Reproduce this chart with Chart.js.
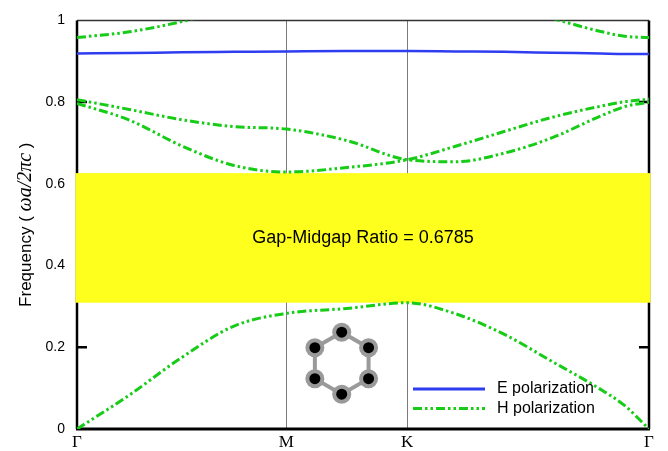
<!DOCTYPE html>
<html>
<head>
<meta charset="utf-8">
<script src="https://cdn.jsdelivr.net/npm/chart.js@4"></script>
<style>
  html, body { margin: 0; padding: 0; background: #fff; }
  canvas { display: block; }
</style>
</head>
<body>
<canvas id="bands" width="668" height="451"></canvas>
<script>
// Brillouin zone path for the triangular lattice (units of 2*pi/a)
const kTicks = [0, 0.5774, 0.9107, 1.5774];
const kLabels = ['Γ', 'M', 'K', 'Γ'];
const kPath = [0, 0.1443, 0.2887, 0.4330, 0.5774, 0.7440, 0.9107,
               1.0440, 1.1774, 1.3107, 1.4440, 1.5107, 1.5774];

// E polarization (TM) band
const eBand = [0.919, 0.920, 0.922, 0.923, 0.924, 0.925, 0.925,
               0.924, 0.923, 0.921, 0.919, 0.918, 0.918];

// H polarization (TE) bands
const hBand1 = [0, 0.083, 0.175, 0.252, 0.283, 0.295, 0.309,
                0.282, 0.232, 0.165, 0.097, 0.057, 0];
const hBand2 = [0.797, 0.756, 0.693, 0.645, 0.629, 0.640, 0.659,
                0.692, 0.728, 0.763, 0.790, 0.801, 0.807];
const hBand3 = [0.806, 0.782, 0.757, 0.740, 0.734, 0.706, 0.659,
                0.654, 0.675, 0.713, 0.766, 0.789, 0.800];
const hBand4 = [0.958, 0.972, 0.997, 1.03, 1.06, 1.08, 1.08,
                1.07, 1.04, 1.005, 0.973, 0.961, 0.958];

// photonic band gap edges
const gapBottom = 0.309;
const gapTop = 0.6263;
const gapText = 'Gap-Midgap Ratio = 0.6785';

const blue = '#2f3df0';
const green = '#16cc16';
const hDash = [9, 3, 2.5, 3, 2.5, 3];

const toPoints = (vals) => vals.map((v, i) => ({ x: kPath[i], y: v }));

const hBands = [hBand1, hBand2, hBand3, hBand4];
const datasets = [{
  label: 'E polarization',
  data: toPoints(eBand),
  borderColor: blue,
  borderWidth: 2.5,
}].concat(hBands.map((b, i) => ({
  label: i === 0 ? 'H polarization' : '',
  data: toPoints(b),
  borderColor: green,
  borderWidth: 3,
  borderDash: hDash,
})));

// frame, inward ticks and the gap band
const framePlugin = {
  id: 'frame',
  beforeDatasetsDraw(chart) {
    const { ctx, chartArea: a, scales: { y } } = chart;
    ctx.save();
    ctx.lineWidth = 1.5;
    ctx.strokeStyle = '#333';
    ctx.beginPath();
    ctx.moveTo(a.left, a.top);
    ctx.lineTo(a.right, a.top);
    ctx.stroke();
    ctx.strokeStyle = '#000';
    ctx.lineWidth = 2.5;
    ctx.beginPath();
    ctx.moveTo(a.left, a.top);
    ctx.lineTo(a.left, a.bottom);
    ctx.moveTo(a.right, a.top);
    ctx.lineTo(a.right, a.bottom);
    ctx.stroke();
    ctx.lineWidth = 3;
    ctx.beginPath();
    ctx.moveTo(a.left - 1, a.bottom);
    ctx.lineTo(a.right + 1, a.bottom);
    ctx.stroke();
    ctx.lineWidth = 2.5;
    [0.2, 0.4, 0.6, 0.8].forEach(v => {
      const py = y.getPixelForValue(v);
      ctx.beginPath();
      ctx.moveTo(a.left, py);
      ctx.lineTo(a.left + 10, py);
      ctx.moveTo(a.right, py);
      ctx.lineTo(a.right - 10, py);
      ctx.stroke();
    });

    const yTop = y.getPixelForValue(gapTop);
    const yBot = y.getPixelForValue(gapBottom);
    ctx.fillStyle = '#ffff1e';
    ctx.fillRect(a.left - 1.5, yTop, a.right - a.left + 3, yBot - yTop);
    ctx.restore();
  },
  afterDatasetsDraw(chart) {
    const { ctx, chartArea: a, scales: { x, y } } = chart;
    ctx.save();

    // gap annotation
    ctx.fillStyle = '#000';
    ctx.font = '18px "Liberation Sans", Arial, sans-serif';
    ctx.textAlign = 'center';
    ctx.textBaseline = 'middle';
    ctx.fillText(gapText, (a.left + a.right) / 2, y.getPixelForValue((gapTop + gapBottom) / 2));

    // unit cell sketch: six rods on a ring
    const cx = x.getPixelForValue(0.730);
    const cy = y.getPixelForValue(0.161);
    const r = 31;
    const nodes = [90, 30, -30, -90, -150, 150].map(d => {
      const t = d * Math.PI / 180;
      return [cx + r * Math.cos(t), cy - r * Math.sin(t)];
    });
    ctx.strokeStyle = '#9a9a9a';
    ctx.lineWidth = 4;
    ctx.beginPath();
    nodes.forEach((p, i) => (i ? ctx.lineTo(p[0], p[1]) : ctx.moveTo(p[0], p[1])));
    ctx.closePath();
    ctx.stroke();
    nodes.forEach(p => {
      ctx.fillStyle = '#9a9a9a';
      ctx.beginPath();
      ctx.arc(p[0], p[1], 9.5, 0, Math.PI * 2);
      ctx.fill();
      ctx.fillStyle = '#000';
      ctx.beginPath();
      ctx.arc(p[0], p[1], 5.5, 0, Math.PI * 2);
      ctx.fill();
    });

    // legend
    const lx = a.right - 236;
    const rows = [
      { y: a.bottom - 40, ds: chart.data.datasets[0] },
      { y: a.bottom - 20.5, ds: chart.data.datasets[1] },
    ];
    ctx.font = '16px "Liberation Sans", Arial, sans-serif';
    ctx.textAlign = 'left';
    rows.forEach(row => {
      ctx.strokeStyle = row.ds.borderColor;
      ctx.lineWidth = 3;
      ctx.setLineDash(row.ds.borderDash || []);
      ctx.beginPath();
      ctx.moveTo(lx, row.y);
      ctx.lineTo(lx + 72, row.y);
      ctx.stroke();
      ctx.setLineDash([]);
      ctx.fillStyle = '#000';
      ctx.fillText(row.ds.label, lx + 84, row.y);
    });
    ctx.restore();
  },
  afterDraw(chart) {
    const { ctx, chartArea: a } = chart;
    // axis title with italic math part
    const parts = [
      { t: 'Frequency ( ', f: '17px "Liberation Sans", Arial, sans-serif' },
      { t: 'ωa/2πc', f: 'italic 20px "Liberation Serif", "Times New Roman", serif' },
      { t: ' )', f: '17px "Liberation Sans", Arial, sans-serif' },
    ];
    ctx.save();
    let total = 0;
    parts.forEach(p => { ctx.font = p.f; p.w = ctx.measureText(p.t).width; total += p.w; });
    ctx.translate(31, (a.top + a.bottom) / 2);
    ctx.rotate(-Math.PI / 2);
    ctx.fillStyle = '#000';
    ctx.textBaseline = 'alphabetic';
    let px = -total / 2;
    parts.forEach(p => { ctx.font = p.f; ctx.fillText(p.t, px, 0); px += p.w; });
    ctx.restore();
  }
};

new Chart(document.getElementById('bands'), {
  type: 'line',
  data: { datasets },
  options: {
    responsive: false,
    animation: false,
    devicePixelRatio: 1,
    layout: { padding: { top: 16, right: 19, left: 0, bottom: 0 } },
    elements: {
      point: { radius: 0 },
      line: { cubicInterpolationMode: 'monotone', fill: false },
    },
    plugins: {
      legend: { display: false },
      tooltip: { enabled: false },
    },
    scales: {
      x: {
        type: 'linear',
        min: 0,
        max: kTicks[kTicks.length - 1],
        afterBuildTicks: (s) => { s.ticks = kTicks.map(v => ({ value: v })); },
        afterFit: (s) => { s.height = 22; },
        border: { display: false },
        grid: {
          drawTicks: false,
          lineWidth: 1,
          color: (c) => (c.index === 1 || c.index === 2) ? '#7a7a7a' : 'rgba(0,0,0,0)',
        },
        ticks: {
          autoSkip: false,
          maxRotation: 0,
          padding: 3,
          color: '#000',
          font: { family: '"Liberation Serif", "Times New Roman", serif', size: 17 },
          callback: (v, i) => kLabels[i],
        },
      },
      y: {
        min: 0,
        max: 1,
        afterFit: (s) => { s.width = 77; },
        border: { display: false },
        grid: { display: false, drawTicks: false },
        ticks: {
          stepSize: 0.2,
          padding: 12,
          color: '#000',
          font: { family: '"Liberation Sans", Arial, sans-serif', size: 14 },
          callback: (v) => String(Math.round(v * 10) / 10),
        },
      },
    },
  },
  plugins: [framePlugin],
});
</script>
</body>
</html>
